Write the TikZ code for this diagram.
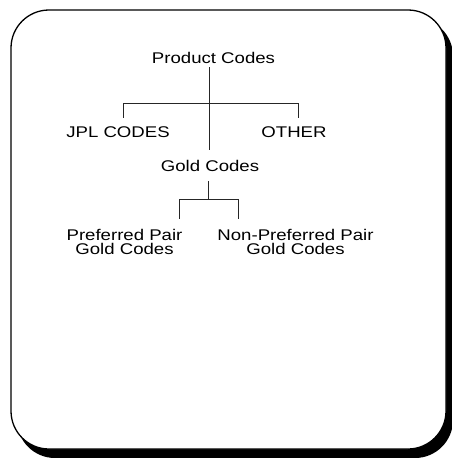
\documentclass[tikz,border=0pt]{standalone}
\usepackage{fontspec}
\setmainfont{Liberation Sans}[FakeStretch=1.2]
\begin{document}
\begin{tikzpicture}[x=1pt,y=-1pt,
  lbl/.style={font=\fontsize{15.5}{14}\selectfont, inner xsep=0pt, align=center, anchor=base},
  conn/.style={line width=1pt, draw=black!85}]
\useasboundingbox (0,0) rectangle (451,458);
% shadow and frame
\fill[black, rounded corners=38pt] (17,18) rectangle (453,458);
\draw[line width=1.3pt, fill=white, rounded corners=38pt] (11,10) rectangle (446,449);
% nodes
\node[lbl, inner ysep=4pt] (pc) at (213.5,63) {Product Codes};
\node[lbl, inner ysep=8pt] (jpl) at (118,137) {JPL CODES};
\node[lbl, inner ysep=8pt] (other) at (294,137) {OTHER};
\node[lbl, inner ysep=10pt] (gold) at (210,171) {Gold Codes};
\node[lbl, inner ysep=10pt] (pref) at (124.5,254) {Preferred Pair\\Gold Codes};
\node[lbl, inner ysep=10pt] (npref) at (295.5,254) {Non-Preferred Pair\\Gold Codes};
% junctions
\coordinate (a) at (209,103);
\coordinate (a1) at (123,103);
\coordinate (a2) at (298,103);
\coordinate (b) at (208,199);
\coordinate (b1) at (179,199);
\coordinate (b2) at (238,199);
% connectors
\draw[conn] (a |- pc.south) -- (a |- gold.north);
\draw[conn] (a1 |- jpl.north) -- (a1) -- (a2) -- (a2 |- other.north);
\draw[conn] (b |- gold.south) -- (b);
\draw[conn] (b1 |- pref.north) -- (b1) -- (b2) -- (b2 |- npref.north);
\end{tikzpicture}
\end{document}
